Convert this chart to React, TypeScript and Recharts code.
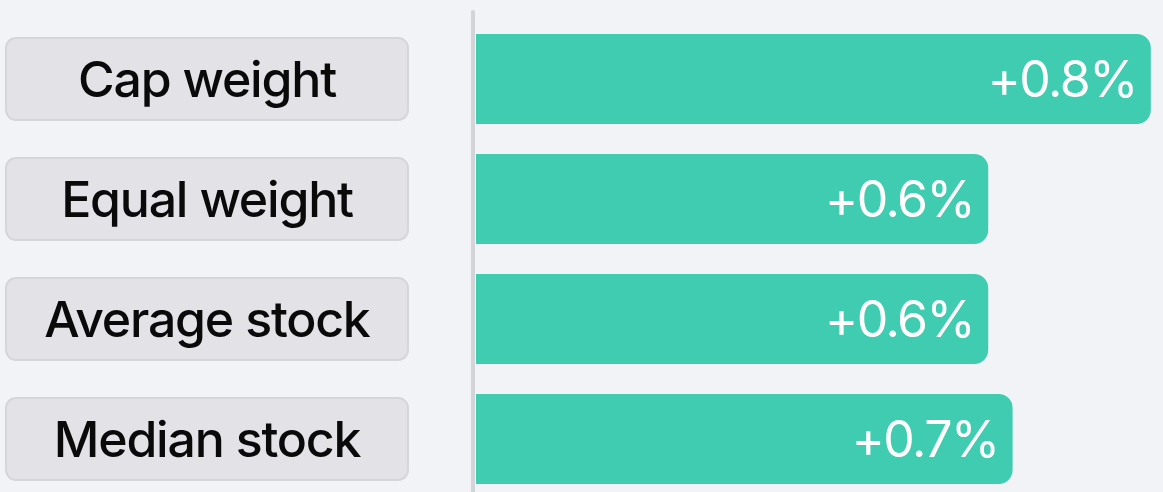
import React from "react";
import { BarChart, Bar, XAxis, YAxis, LabelList, ReferenceLine } from "recharts";

const categories = ["Cap weight", "Equal weight", "Average stock", "Median stock"];
const values = [0.83, 0.63, 0.63, 0.66];

const data = categories.map((name, i) => ({ name, value: values[i] }));

const FONT = "Inter, 'Noto Sans', sans-serif";

const LabelTick = (props: any) => {
  const { y, payload } = props;
  return (
    <g>
      <rect x={6} y={y - 41} width={402} height={82} rx={10} ry={10} fill="#e3e3e7" stroke="#d5d5da" strokeWidth={2} />
      <text x={207} y={y} textAnchor="middle" dominantBaseline="central" fontSize={50} fontWeight={500} fill="#0a0a0a" fontFamily={FONT} letterSpacing={-1.2}>
        {payload.value}
      </text>
    </g>
  );
};

const AxisShape = (props: any) => {
  const { x1, x2, y1, y2 } = props;
  const xv = Number.isFinite(x1) ? x1 : Number.isFinite(x2) ? x2 : 476;
  const x = xv - 3;
  const yb = Math.max(Number(y1) || 0, Number(y2) || 0, 499);
  return <line x1={x} x2={x} y1={12} y2={yb + 10} stroke="#d3d3d8" strokeWidth={4} strokeLinecap="round" />;
};

export default function App() {
  return (
    <div style={{ position: "absolute", left: 0, top: 0, width: 1163, height: 492, background: "#f2f3f7", overflow: "hidden" }}>
      <BarChart width={1163} height={499} data={data} layout="vertical" margin={{ top: 19, right: 0, bottom: 0, left: 0 }} barSize={90}>
        <XAxis type="number" domain={[0, 0.845]} hide />
        <YAxis type="category" dataKey="name" width={476} tick={<LabelTick />} tickLine={false} axisLine={false} interval={0} />
        <Bar dataKey="value" fill="#3fccb1" radius={[0, 14, 14, 0]} isAnimationActive={false}>
          <LabelList
            dataKey="value"
            position="insideRight"
            offset={14}
            formatter={(v: any) => `+${Number(v).toFixed(1)}%`}
            style={{ fill: "#ffffff", fontSize: 50, fontFamily: FONT, fontWeight: 400, letterSpacing: -1.5 }}
          />
        </Bar>
        <ReferenceLine x={0} shape={<AxisShape />} ifOverflow="visible" />
      </BarChart>
    </div>
  );
}
